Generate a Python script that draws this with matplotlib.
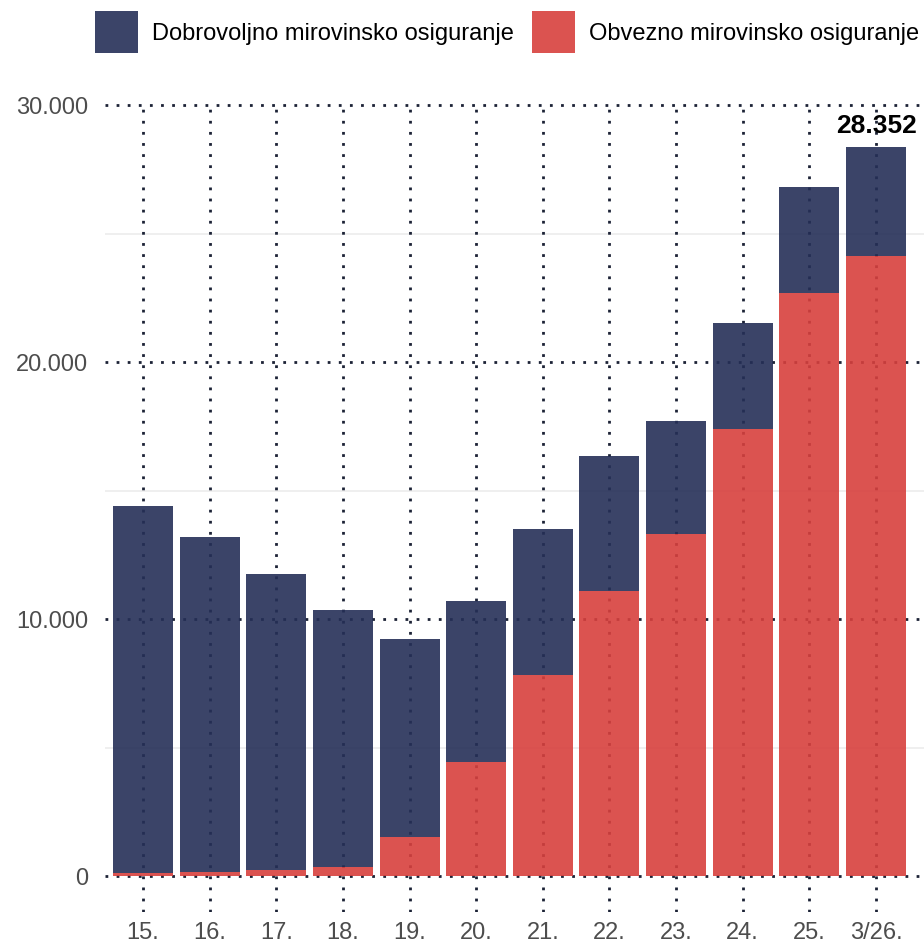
import matplotlib.pyplot as plt
from matplotlib.ticker import FuncFormatter

# podaci (procjena s grafa)
godine = ['15.', '16.', '17.', '18.', '19.', '20.', '21.', '22.', '23.', '24.', '25.', '3/26.']
ukupno = [14400, 13190, 11750, 10350, 9220, 10700, 13500, 16340, 17700, 21520, 26810, 28352]
obvezno = [120, 160, 230, 350, 1520, 4440, 7820, 11090, 13310, 17390, 22690, 24130]
dobrovoljno = [u - o for u, o in zip(ukupno, obvezno)]

navy = '#252f57'
red = '#d7403d'
grid_col = '#1c2236'
txt_col = '#4d4d4d'

plt.rcParams['font.family'] = ['Liberation Sans', 'DejaVu Sans']

fig = plt.figure(figsize=(9.24, 9.46), dpi=100)
ax = fig.add_axes([105 / 924, 1 - 912 / 946, 1 - 105 / 924, (912 - 105) / 946])

x = list(range(len(godine)))

# minor grid
for v in [5000, 15000, 25000]:
    ax.axhline(v, color='#ebebeb', lw=1.1, zorder=0)
# dotted major grid
for v in [0, 10000, 20000, 30000]:
    ax.axhline(v, color=grid_col, lw=2, ls=(0, (1, 3)), zorder=1, clip_on=False)
for xi in x:
    ax.axvline(xi, color=grid_col, lw=2, ls=(0, (1, 3)), zorder=1)

ax.bar(x, obvezno, width=0.9, color=red, alpha=0.9, zorder=2,
       label='Obvezno mirovinsko osiguranje')
ax.bar(x, dobrovoljno, bottom=obvezno, width=0.9, color=navy, alpha=0.9, zorder=2,
       label='Dobrovoljno mirovinsko osiguranje')

ax.text(x[-1], ukupno[-1] + 350, '28.352', ha='center', va='bottom',
        fontsize=19, fontweight='bold', color='black', zorder=3)

ax.set_xlim(-0.57, 11.72)
ax.set_ylim(-1400, 30000)
ax.set_xticks(x)
ax.set_xticklabels(godine)
ax.set_yticks([0, 10000, 20000, 30000])
ax.yaxis.set_major_formatter(FuncFormatter(lambda v, p: f'{int(v):,}'.replace(',', '.')))
ax.tick_params(length=0, labelsize=17, labelcolor=txt_col)
ax.tick_params(axis='y', pad=12)
ax.tick_params(axis='x', pad=7)
for s in ax.spines.values():
    s.set_visible(False)

h, l = ax.get_legend_handles_labels()
fig.legend(h[::-1], l[::-1], loc='upper center', bbox_to_anchor=(0.549, 1.003),
           ncol=2, frameon=False, fontsize=17, handlelength=1.82, handleheight=2.36,
           handletextpad=0.6, columnspacing=0.75, borderaxespad=0.2)

fig.savefig('out.png', dpi=100)
